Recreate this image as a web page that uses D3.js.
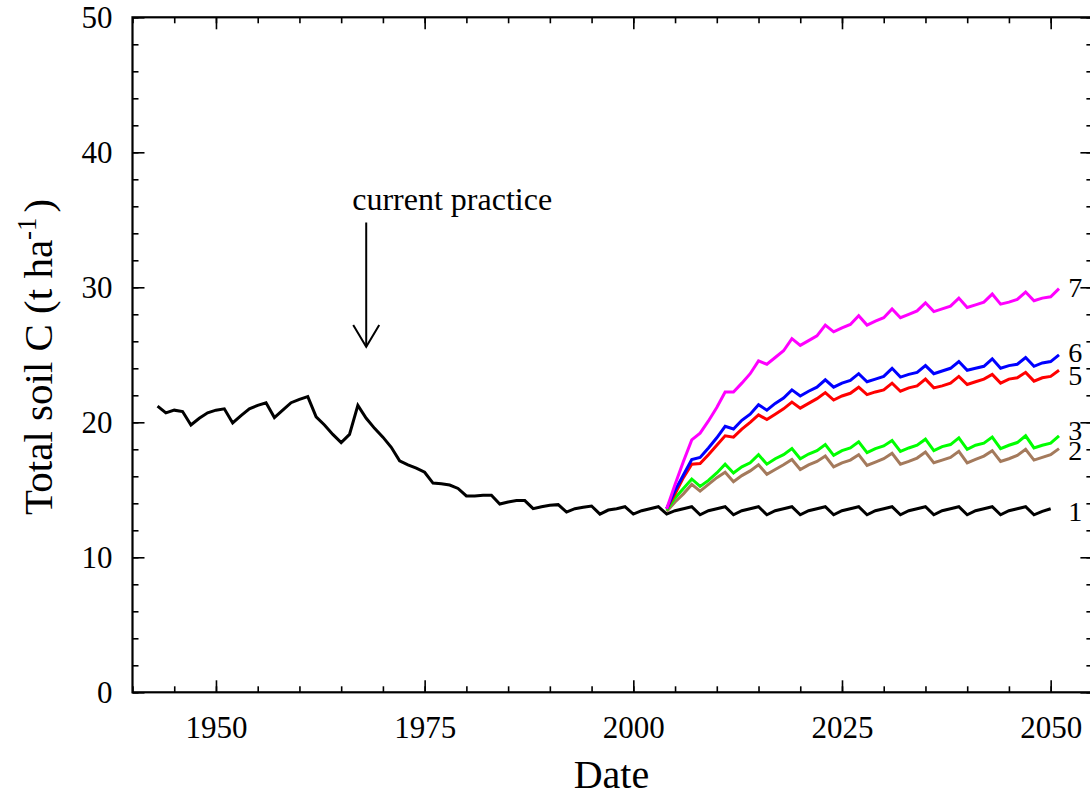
<!DOCTYPE html>
<html>
<head>
<meta charset="utf-8">
<script src="https://cdn.jsdelivr.net/npm/d3@7"></script>
<style>
  html, body { margin: 0; padding: 0; background: #fff; }
  svg { display: block; }
  text { font-family: "Liberation Serif", "Times New Roman", serif; fill: #000; }
</style>
</head>
<body>
<script>
// ---------- data ----------
const histYears = d3.range(1943, 2051);
const histValues = [
  21.2, 20.7, 20.9, 20.8, 19.8, 20.3, 20.7, 20.9, 21.0, 19.95,
  20.5, 21.0, 21.25, 21.45, 20.35, 20.9, 21.45, 21.7, 21.9, 20.4,
  19.8, 19.1, 18.5, 19.1, 21.25, 20.3, 19.55, 18.9, 18.15, 17.15,
  16.85, 16.6, 16.3, 15.5, 15.45, 15.35, 15.1, 14.55, 14.55, 14.6,
  14.6, 13.95, 14.1, 14.2, 14.2, 13.6, 13.75, 13.85, 13.9, 13.35,
  13.6, 13.7, 13.8, 13.2, 13.5, 13.6, 13.75, 13.2, 13.45, 13.6,
  13.75, 13.2, 13.45, 13.6, 13.75, 13.15, 13.45, 13.6, 13.75, 13.15,
  13.45, 13.6, 13.75, 13.15, 13.45, 13.6, 13.75, 13.15, 13.45, 13.6,
  13.75, 13.15, 13.45, 13.6, 13.75, 13.15, 13.45, 13.6, 13.75, 13.15,
  13.45, 13.6, 13.75, 13.15, 13.45, 13.6, 13.75, 13.15, 13.45, 13.6,
  13.75, 13.15, 13.45, 13.6, 13.75, 13.15, 13.4, 13.6
];

const scenYears = d3.range(2004, 2052);
const scen2 = [ // brown
  13.4, 14.1, 14.7, 15.4, 14.9, 15.4, 15.9, 16.3, 15.6, 16.05,
  16.4, 16.85, 16.15, 16.5, 16.85, 17.25, 16.5, 16.85, 17.1, 17.5,
  16.7, 17.0, 17.2, 17.6, 16.8, 17.05, 17.3, 17.7, 16.9, 17.1,
  17.35, 17.8, 17.0, 17.2, 17.4, 17.85, 17.0, 17.25, 17.5, 17.9,
  17.1, 17.3, 17.55, 18.0, 17.2, 17.4, 17.6, 18.05
];
const scen3 = [ // green
  13.5, 14.4, 15.1, 15.8, 15.25, 15.7, 16.25, 16.9, 16.25, 16.7,
  17.0, 17.6, 16.9, 17.3, 17.6, 18.05, 17.3, 17.65, 17.9, 18.35,
  17.55, 17.9, 18.1, 18.55, 17.75, 18.05, 18.25, 18.65, 17.85, 18.1,
  18.3, 18.75, 17.9, 18.2, 18.35, 18.85, 18.0, 18.3, 18.45, 18.9,
  18.05, 18.3, 18.5, 19.0, 18.1, 18.3, 18.45, 19.0
];
const scen5 = [ // red
  13.6, 14.7, 15.9, 16.9, 16.95, 17.6, 18.3, 19.0, 18.9, 19.5,
  20.0, 20.55, 20.2, 20.6, 21.0, 21.5, 21.05, 21.4, 21.75, 22.2,
  21.65, 21.95, 22.15, 22.6, 22.05, 22.25, 22.4, 22.9, 22.3, 22.55,
  22.7, 23.2, 22.55, 22.7, 22.9, 23.4, 22.8, 23.0, 23.2, 23.55,
  22.9, 23.2, 23.3, 23.7, 23.05, 23.3, 23.4, 23.85
];
const scen6 = [ // blue
  13.6, 14.95, 16.1, 17.25, 17.4, 18.1, 18.85, 19.7, 19.5, 20.15,
  20.6, 21.3, 20.9, 21.4, 21.8, 22.4, 21.95, 22.3, 22.6, 23.15,
  22.6, 22.9, 23.1, 23.6, 23.0, 23.2, 23.4, 24.0, 23.35, 23.55,
  23.7, 24.2, 23.6, 23.8, 24.0, 24.5, 23.85, 24.0, 24.15, 24.7,
  24.0, 24.2, 24.3, 24.8, 24.15, 24.4, 24.5, 25.0
];
const scen7 = [ // magenta
  13.6, 15.4, 17.1, 18.7, 19.2, 20.1, 21.1, 22.25, 22.25, 22.9,
  23.6, 24.55, 24.3, 24.8, 25.3, 26.2, 25.7, 26.05, 26.4, 27.2,
  26.7, 27.0, 27.25, 27.9, 27.2, 27.5, 27.75, 28.4, 27.75, 28.0,
  28.25, 28.85, 28.2, 28.4, 28.6, 29.2, 28.5, 28.7, 28.9, 29.5,
  28.75, 28.9, 29.1, 29.65, 29.0, 29.2, 29.3, 29.9
];

const seriesNames  = ["1", "2", "3", "5", "6", "7"];
const seriesColors = ["#000000", "#a47a5c", "#00ff00", "#ff0000", "#0000ff", "#ff00ff"];
const labelValues  = [13.45, 17.95, 19.4, 23.5, 25.2, 30.0];

const xMajorTicks = [1950, 1975, 2000, 2025, 2050];
const xMinorTicks = d3.range(1940, 2056, 5);
const yMajorTicks = [0, 10, 20, 30, 40, 50];
const yMinorTicks = d3.range(0, 51, 2);

const annotationText = "current practice";
const annotationYear = 1968;
const xTitle = "Date";

// ---------- drawing ----------
const W = 1090, H = 796;
const svg = d3.select("body").append("svg").attr("width", W).attr("height", H);

const x = d3.scaleLinear().domain([1940, 2055]).range([132.5, 1092.4]);
const y = d3.scaleLinear().domain([0, 50]).range([692.3, 17.3]);
const x0 = x.range()[0], x1 = x.range()[1], y0 = y.range()[0], y1 = y.range()[1];

function styleAxis(g) {
  g.select(".domain").remove();
  g.selectAll(".tick line").attr("stroke", "#000").attr("stroke-width", 1.6);
  g.selectAll("text").style("font-family", '"Liberation Serif", serif').style("font-size", "31px").attr("fill", "#000");
}

// bottom
svg.append("g").attr("transform", `translate(0,${y0})`)
  .call(d3.axisBottom(x).tickValues(xMinorTicks).tickSize(-6).tickFormat(""))
  .call(styleAxis);
svg.append("g").attr("transform", `translate(0,${y0})`)
  .call(d3.axisBottom(x).tickValues(xMajorTicks).tickSize(-12).tickPadding(24).tickFormat(d3.format("d")))
  .call(styleAxis);
// top
svg.append("g").attr("transform", `translate(0,${y1})`)
  .call(d3.axisTop(x).tickValues(xMinorTicks).tickSize(-6).tickFormat(""))
  .call(styleAxis);
svg.append("g").attr("transform", `translate(0,${y1})`)
  .call(d3.axisTop(x).tickValues(xMajorTicks).tickSize(-12).tickFormat(""))
  .call(styleAxis);
// left
svg.append("g").attr("transform", `translate(${x0},0)`)
  .call(d3.axisLeft(y).tickValues(yMinorTicks).tickSize(-6).tickFormat(""))
  .call(styleAxis);
svg.append("g").attr("transform", `translate(${x0},0)`)
  .call(d3.axisLeft(y).tickValues(yMajorTicks).tickSize(-12).tickPadding(20).tickFormat(d3.format("d")))
  .call(styleAxis);
// right
svg.append("g").attr("transform", `translate(${x1},0)`)
  .call(d3.axisRight(y).tickValues(yMinorTicks).tickSize(-6).tickFormat(""))
  .call(styleAxis);
svg.append("g").attr("transform", `translate(${x1},0)`)
  .call(d3.axisRight(y).tickValues(yMajorTicks).tickSize(-12).tickFormat(""))
  .call(styleAxis);

// frame
svg.append("rect").attr("x", x0).attr("y", y1).attr("width", x1 - x0).attr("height", y0 - y1)
  .attr("fill", "none").attr("stroke", "#000").attr("stroke-width", 2.2);

// lines
const line = d3.line().x(d => x(d[0])).y(d => y(d[1]));
const allSeries = [
  histYears.map((yr, i) => [yr, histValues[i]]),
  scenYears.map((yr, i) => [yr, scen2[i]]),
  scenYears.map((yr, i) => [yr, scen3[i]]),
  scenYears.map((yr, i) => [yr, scen5[i]]),
  scenYears.map((yr, i) => [yr, scen6[i]]),
  scenYears.map((yr, i) => [yr, scen7[i]])
];
allSeries.forEach((s, i) => {
  svg.append("path").datum(s).attr("d", line)
    .attr("fill", "none").attr("stroke", seriesColors[i])
    .attr("stroke-width", 3).attr("stroke-linejoin", "miter").attr("stroke-linecap", "butt");
});

// series labels
seriesNames.forEach((n, i) => {
  svg.append("text").attr("x", x(2052.1)).attr("y", y(labelValues[i]))
    .attr("dy", "0.35em").style("font-size", "28px").text(n);
});

// annotation
const ax = x(annotationYear);
svg.append("text").attr("x", x(1978.3)).attr("y", y(35.7))
  .attr("text-anchor", "middle").style("font-size", "32px").text(annotationText);
svg.append("line").attr("x1", ax).attr("x2", ax).attr("y1", y(34.8)).attr("y2", y(25.6))
  .attr("stroke", "#000").attr("stroke-width", 2);
svg.append("polyline")
  .attr("points", [[ax - 13, y(27.2)], [ax, y(25.6)], [ax + 13, y(27.2)]].map(p => p.join(",")).join(" "))
  .attr("fill", "none").attr("stroke", "#000").attr("stroke-width", 2);

// axis titles
svg.append("text").attr("x", (x0 + x1) / 2 - 1).attr("y", 788)
  .attr("text-anchor", "middle").style("font-size", "40px").text(xTitle);

const yt = svg.append("text")
  .attr("transform", `translate(52,${(y0 + y1) / 2 + 2}) rotate(-90)`)
  .attr("text-anchor", "middle").style("font-size", "41px");
yt.append("tspan").text("Total soil C (t ha");
yt.append("tspan").attr("dy", -16).style("font-size", "27px").text("-1");
yt.append("tspan").attr("dy", 16).attr("dx", 5).text(")");
</script>
</body>
</html>
